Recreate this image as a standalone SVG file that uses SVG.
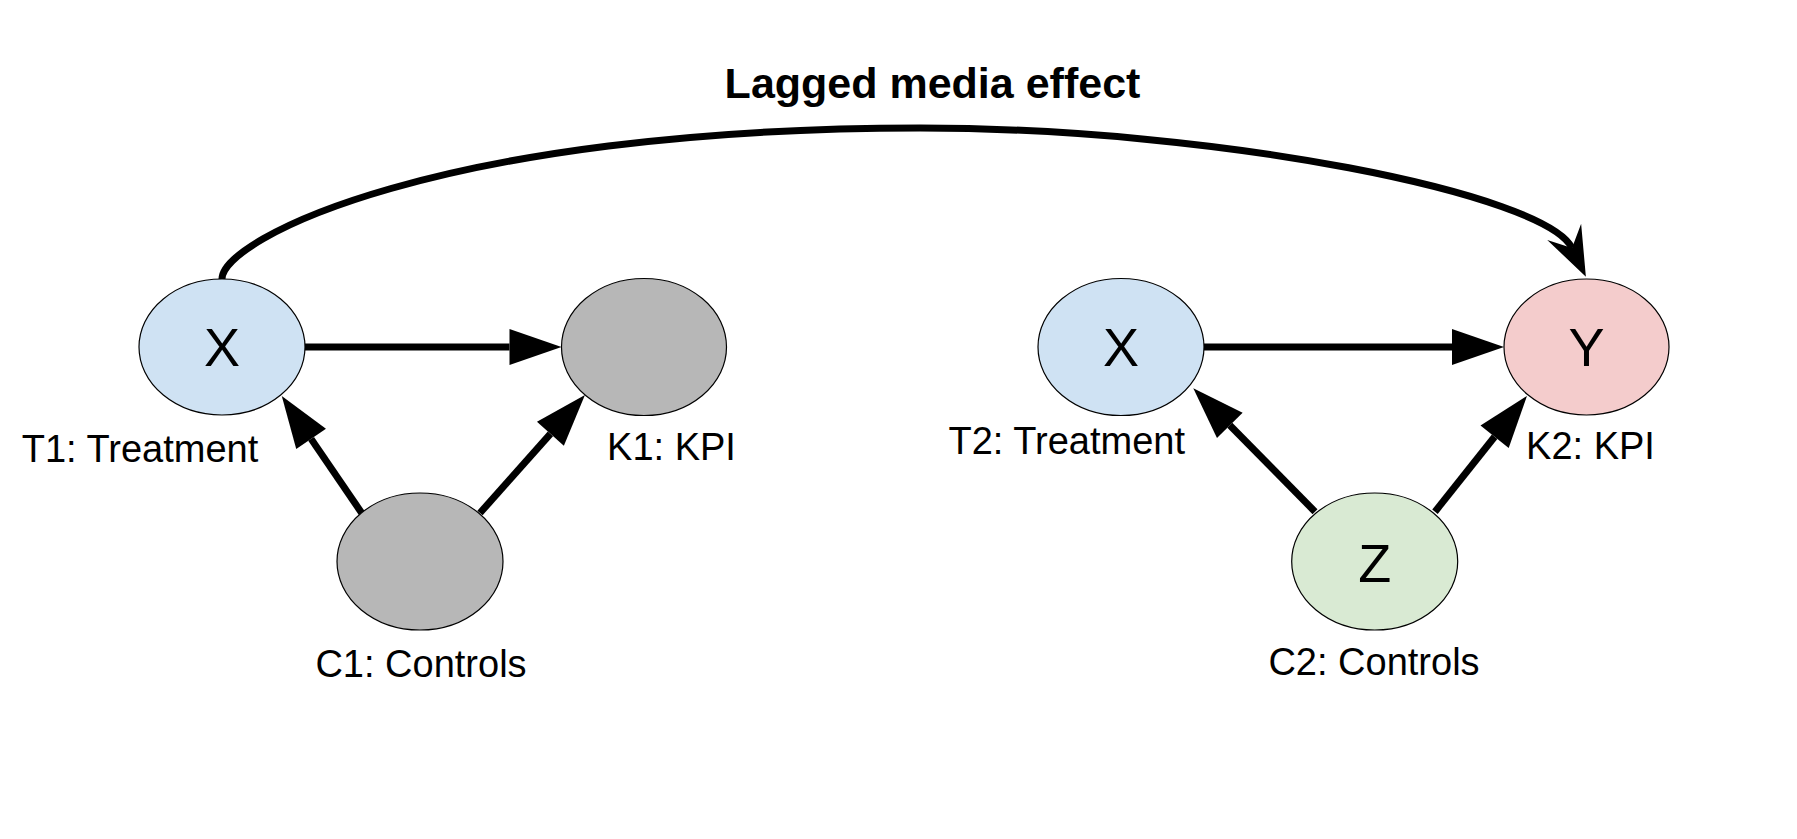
<svg xmlns="http://www.w3.org/2000/svg" width="1797" height="839" viewBox="0 0 1797 839">
<style>
.node{stroke:#000;stroke-width:1.2}
.blue{fill:#cfe2f3}.gray{fill:#b7b7b7}.pink{fill:#f4cccc}.green{fill:#d9ead3}
.sym{font-family:"Liberation Sans",Arial,sans-serif;font-size:54px;fill:#000;text-anchor:middle}
.lbl{font-family:"Liberation Sans",Arial,sans-serif;font-size:38px;fill:#000;text-anchor:middle}
.title{font-family:"Liberation Sans",Arial,sans-serif;font-size:43px;font-weight:bold;fill:#000;text-anchor:middle}
.edge{fill:none;stroke:#000;stroke-width:7}
</style>
<defs>
<marker id="block" markerUnits="userSpaceOnUse" markerWidth="60" markerHeight="40" viewBox="0 -20 54 40" refX="0" refY="0" orient="auto">
<path d="M0,-18 L52,0 L0,18 Z" fill="#000"/>
</marker>
<marker id="classic" markerUnits="userSpaceOnUse" markerWidth="60" markerHeight="44" viewBox="0 -22 54 44" refX="18" refY="0" orient="auto">
<path d="M0,-18.8 L50,0 L0,18.8 L18,0 Z" fill="#000"/>
</marker>
</defs>
<rect width="1797" height="839" fill="#fff"/>
<text class="title" x="932.5" y="98">Lagged media effect</text>
<g id="connectors">
<path class="edge" d="M222,279 C222,239 440,128 920,128 C1220,128 1546,194 1572,248" marker-end="url(#classic)"/>
<line class="edge" x1="305" y1="347" x2="509.5" y2="347" marker-end="url(#block)"/>
<line class="edge" x1="1204" y1="347" x2="1452" y2="347" marker-end="url(#block)"/>
<line class="edge" x1="361.7" y1="513" x2="311.1" y2="438.9" marker-end="url(#block)"/>
<line class="edge" x1="480" y1="513" x2="550.4" y2="433.8" marker-end="url(#block)"/>
<line class="edge" x1="1315" y1="511.7" x2="1229.8" y2="425.3" marker-end="url(#block)"/>
<line class="edge" x1="1435" y1="511.7" x2="1494.6" y2="436.7" marker-end="url(#block)"/>
</g>
<g id="T1">
<ellipse class="node blue" cx="222" cy="347" rx="83" ry="68"/>
<text class="sym" x="222" y="365.7">X</text>
<text class="lbl" x="140" y="461.7">T1: Treatment</text>
</g>
<g id="K1">
<ellipse class="node gray" cx="644" cy="347" rx="82.5" ry="68.5"/>
<text class="lbl" x="671.5" y="460">K1: KPI</text>
</g>
<g id="C1">
<ellipse class="node gray" cx="420" cy="561.5" rx="83" ry="68.5"/>
<text class="lbl" x="421" y="677">C1: Controls</text>
</g>
<g id="T2">
<ellipse class="node blue" cx="1121" cy="347" rx="83" ry="68.5"/>
<text class="sym" x="1121" y="365.7">X</text>
<text class="lbl" x="1066.7" y="454">T2: Treatment</text>
</g>
<g id="K2">
<ellipse class="node pink" cx="1586.5" cy="347" rx="82.5" ry="68"/>
<text class="sym" x="1586.5" y="365.7">Y</text>
<text class="lbl" x="1590.5" y="459">K2: KPI</text>
</g>
<g id="C2">
<ellipse class="node green" cx="1374.7" cy="561.5" rx="83" ry="68.5"/>
<text class="sym" x="1374.7" y="581.7">Z</text>
<text class="lbl" x="1374" y="675">C2: Controls</text>
</g>
</svg>
